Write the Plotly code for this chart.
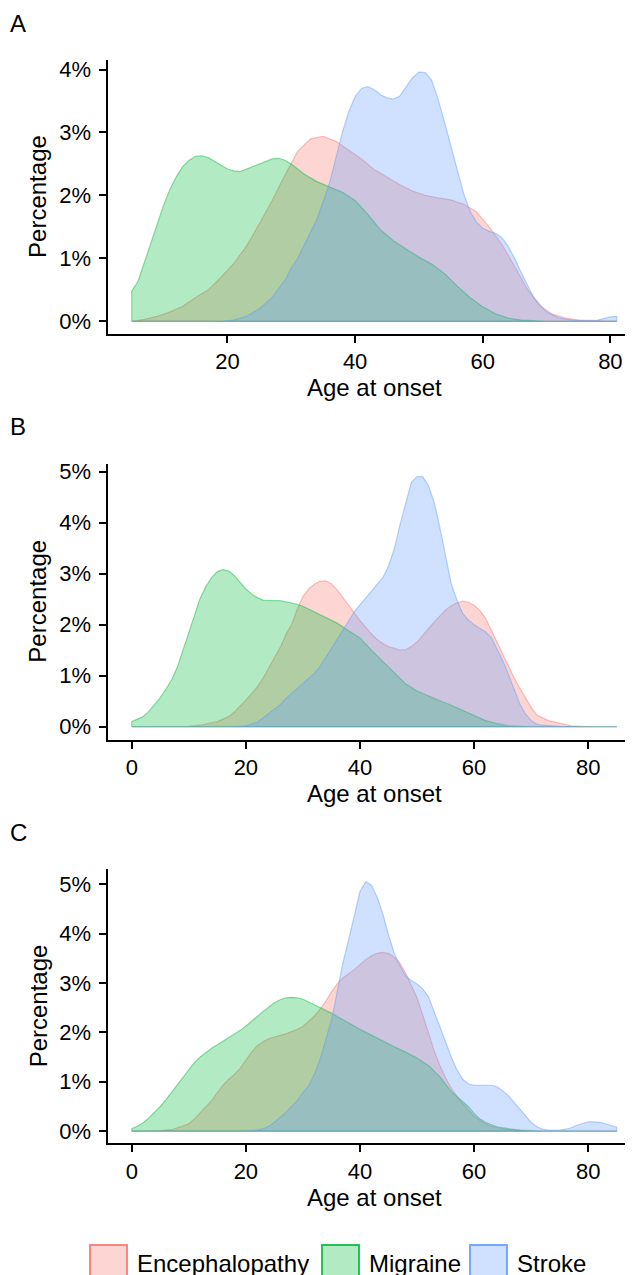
import plotly.graph_objects as go

# ---------------- data (percent density by age at onset) ----------------
# Panel A
A_enc_age = [5, 7, 9, 11, 13, 15, 17, 19, 21, 23, 25, 27, 29, 31, 33, 35, 37, 39, 41, 43, 45, 47, 49, 51, 53, 55, 57, 59, 61, 63, 65, 67, 69, 71, 73, 75, 77, 79, 81]
A_enc_val = [0.0, 0.03, 0.08, 0.15, 0.24, 0.38, 0.5, 0.7, 0.92, 1.2, 1.55, 1.92, 2.32, 2.7, 2.9, 2.94, 2.86, 2.72, 2.58, 2.41, 2.29, 2.17, 2.07, 2.0, 1.96, 1.93, 1.86, 1.74, 1.5, 1.22, 0.87, 0.51, 0.24, 0.11, 0.05, 0.02, 0.01, 0.0, 0.0]

A_mig_age = [5, 6, 7, 8, 9, 10, 11, 12, 13, 14, 15, 16, 17, 18, 19, 20, 21, 22, 23, 24, 25, 26, 27, 28, 29, 30, 32, 34, 36, 38, 40, 42, 44, 46, 48, 50, 52, 54, 56, 58, 60, 62, 64, 66, 68, 70, 75, 81]
A_mig_val = [0.48, 0.64, 0.95, 1.25, 1.54, 1.85, 2.1, 2.3, 2.46, 2.56, 2.62, 2.63, 2.6, 2.54, 2.47, 2.42, 2.39, 2.38, 2.42, 2.46, 2.51, 2.55, 2.58, 2.59, 2.56, 2.5, 2.34, 2.22, 2.14, 2.05, 1.92, 1.7, 1.45, 1.28, 1.15, 1.02, 0.91, 0.76, 0.56, 0.38, 0.23, 0.12, 0.05, 0.02, 0.01, 0.0, 0.0, 0.0]

A_str_age = [5, 15, 19, 21, 23, 25, 27, 29, 30, 31, 32, 33, 34, 35, 36, 37, 38, 39, 40, 41, 42, 43, 44, 45, 46, 47, 48, 49, 50, 51, 52, 53, 54, 55, 56, 57, 58, 59, 60, 61, 62, 63, 64, 65, 66, 67, 68, 69, 70, 72, 74, 76, 78, 80, 81]
A_str_val = [0.0, 0.0, 0.0, 0.02, 0.08, 0.2, 0.38, 0.65, 0.85, 1.0, 1.2, 1.4, 1.62, 1.9, 2.2, 2.6, 3.0, 3.33, 3.57, 3.7, 3.73, 3.68, 3.6, 3.55, 3.53, 3.58, 3.72, 3.87, 3.96, 3.95, 3.83, 3.53, 3.17, 2.78, 2.4, 2.03, 1.75, 1.58, 1.48, 1.43, 1.4, 1.33, 1.19, 1.0, 0.78, 0.58, 0.38, 0.26, 0.15, 0.05, 0.02, 0.01, 0.02, 0.07, 0.08]

# Panel B
B_enc_age = [0, 5, 8, 10, 12, 14, 15, 16, 17, 18, 19, 20, 21, 22, 23, 24, 25, 26, 27, 28, 29, 30, 31, 32, 33, 34, 35, 36, 37, 38, 39, 40, 41, 42, 43, 44, 45, 46, 47, 48, 49, 50, 51, 52, 53, 54, 55, 56, 57, 58, 59, 60, 61, 62, 63, 64, 65, 66, 67, 68, 69, 70, 71, 72, 73, 75, 77, 79, 81, 85]
B_enc_val = [0.0, 0.0, 0.0, 0.01, 0.03, 0.07, 0.1, 0.15, 0.2, 0.29, 0.4, 0.52, 0.65, 0.78, 0.95, 1.15, 1.35, 1.55, 1.8, 2.0, 2.3, 2.55, 2.7, 2.79, 2.85, 2.86, 2.8, 2.68, 2.53, 2.37, 2.23, 2.08, 1.94, 1.82, 1.71, 1.63, 1.57, 1.53, 1.5, 1.51, 1.57, 1.66, 1.78, 1.92, 2.05, 2.18, 2.29, 2.37, 2.43, 2.46, 2.44, 2.38, 2.28, 2.13, 1.9, 1.65, 1.41, 1.18, 0.96, 0.76, 0.57, 0.38, 0.23, 0.17, 0.12, 0.07, 0.02, 0.01, 0.0, 0.0]

B_mig_age = [0, 1, 2, 3, 4, 5, 6, 7, 8, 9, 10, 11, 12, 13, 14, 15, 16, 17, 18, 19, 20, 21, 22, 23, 24, 25, 26, 27, 28, 29, 30, 32, 34, 36, 38, 40, 42, 44, 46, 48, 50, 52, 54, 56, 58, 60, 62, 64, 66, 68, 70, 85]
B_mig_val = [0.1, 0.15, 0.2, 0.3, 0.43, 0.57, 0.74, 0.92, 1.17, 1.5, 1.85, 2.2, 2.52, 2.75, 2.92, 3.04, 3.08, 3.05, 2.96, 2.83, 2.7, 2.6, 2.53, 2.48, 2.47, 2.47, 2.47, 2.45, 2.43, 2.4, 2.36, 2.25, 2.14, 2.03, 1.88, 1.74, 1.5, 1.28, 1.05, 0.84, 0.7, 0.6, 0.51, 0.42, 0.32, 0.22, 0.12, 0.06, 0.02, 0.01, 0.0, 0.0]

B_str_age = [0, 15, 18, 20, 21, 22, 23, 24, 25, 26, 27, 28, 29, 30, 31, 32, 33, 34, 35, 36, 37, 38, 39, 40, 41, 42, 43, 44, 45, 46, 47, 48, 49, 50, 51, 52, 53, 54, 55, 56, 57, 58, 59, 60, 61, 62, 63, 64, 65, 66, 67, 68, 69, 70, 71, 72, 75, 78, 85]
B_str_val = [0.0, 0.0, 0.0, 0.02, 0.05, 0.09, 0.17, 0.26, 0.34, 0.43, 0.55, 0.65, 0.75, 0.85, 0.95, 1.05, 1.18, 1.36, 1.53, 1.71, 1.9, 2.09, 2.25, 2.39, 2.52, 2.64, 2.78, 2.92, 3.15, 3.48, 3.95, 4.4, 4.79, 4.9, 4.9, 4.72, 4.4, 3.9, 3.35, 2.8, 2.48, 2.22, 2.09, 2.0, 1.93, 1.86, 1.75, 1.52, 1.3, 1.03, 0.73, 0.45, 0.25, 0.12, 0.05, 0.03, 0.01, 0.0, 0.0]

# Panel C
C_enc_age = [0, 3, 5, 7, 9, 10, 11, 12, 13, 14, 15, 16, 17, 18, 19, 20, 21, 22, 23, 24, 25, 26, 27, 28, 29, 30, 31, 32, 33, 34, 35, 36, 37, 38, 39, 40, 41, 42, 43, 44, 45, 46, 47, 48, 49, 50, 51, 52, 53, 54, 55, 56, 57, 58, 59, 60, 61, 62, 63, 65, 67, 70, 85]
C_enc_val = [0.0, 0.0, 0.01, 0.03, 0.1, 0.15, 0.25, 0.37, 0.5, 0.62, 0.78, 0.93, 1.05, 1.15, 1.27, 1.43, 1.6, 1.73, 1.81, 1.87, 1.91, 1.94, 1.97, 2.01, 2.06, 2.12, 2.22, 2.33, 2.47, 2.63, 2.82, 2.98, 3.1, 3.18, 3.27, 3.37, 3.47, 3.55, 3.6, 3.62, 3.6, 3.52, 3.4, 3.2, 2.95, 2.7, 2.35, 1.98, 1.63, 1.33, 1.08, 0.87, 0.7, 0.56, 0.43, 0.3, 0.22, 0.15, 0.1, 0.05, 0.02, 0.0, 0.0]

C_mig_age = [0, 1, 2, 3, 4, 5, 6, 7, 8, 9, 10, 11, 12, 13, 14, 15, 16, 17, 18, 19, 20, 21, 22, 23, 24, 25, 26, 27, 28, 29, 30, 31, 32, 33, 34, 35, 36, 37, 38, 39, 40, 42, 44, 46, 48, 50, 52, 54, 56, 58, 59, 60, 61, 62, 63, 64, 66, 68, 70, 72, 85]
C_mig_val = [0.05, 0.1, 0.17, 0.27, 0.38, 0.5, 0.64, 0.79, 0.94, 1.1, 1.26, 1.39, 1.5, 1.6, 1.68, 1.75, 1.82, 1.89, 1.96, 2.04, 2.13, 2.22, 2.32, 2.42, 2.52, 2.6, 2.66, 2.7, 2.71, 2.7, 2.67, 2.62, 2.56, 2.5, 2.45, 2.39, 2.32, 2.26, 2.2, 2.13, 2.06, 1.94, 1.82, 1.71, 1.6, 1.48, 1.33, 1.1, 0.8, 0.6, 0.5, 0.36, 0.25, 0.18, 0.13, 0.09, 0.05, 0.02, 0.01, 0.0, 0.0]

C_str_age = [0, 15, 20, 22, 23, 24, 25, 26, 27, 28, 29, 30, 31, 32, 33, 34, 35, 36, 37, 38, 39, 40, 41, 42, 43, 44, 45, 46, 47, 48, 49, 50, 51, 52, 53, 54, 55, 56, 57, 58, 59, 60, 61, 62, 63, 64, 65, 66, 67, 68, 69, 70, 71, 72, 73, 74, 75, 76, 77, 78, 79, 80, 81, 82, 83, 84, 85]
C_str_val = [0.0, 0.0, 0.0, 0.02, 0.05, 0.1, 0.18, 0.28, 0.38, 0.5, 0.62, 0.78, 0.92, 1.15, 1.45, 1.85, 2.25, 2.82, 3.4, 3.87, 4.38, 4.85, 5.05, 4.98, 4.74, 4.4, 3.97, 3.6, 3.35, 3.14, 3.05, 2.98, 2.88, 2.72, 2.42, 2.1, 1.78, 1.5, 1.24, 1.05, 0.96, 0.93, 0.93, 0.93, 0.93, 0.9, 0.82, 0.72, 0.58, 0.45, 0.3, 0.18, 0.09, 0.04, 0.02, 0.02, 0.02, 0.04, 0.07, 0.12, 0.16, 0.19, 0.19, 0.18, 0.15, 0.11, 0.08]

groups = ["Encephalopathy", "Migraine", "Stroke"]
panels = ["A", "B", "C"]
panel_data = {
    "A": [(A_enc_age, A_enc_val), (A_mig_age, A_mig_val), (A_str_age, A_str_val)],
    "B": [(B_enc_age, B_enc_val), (B_mig_age, B_mig_val), (B_str_age, B_str_val)],
    "C": [(C_enc_age, C_enc_val), (C_mig_age, C_mig_val), (C_str_age, C_str_val)],
}
x_ticks = {"A": [20, 40, 60, 80], "B": [0, 20, 40, 60, 80], "C": [0, 20, 40, 60, 80]}
y_ticks = {"A": [0, 1, 2, 3, 4], "B": [0, 1, 2, 3, 4, 5], "C": [0, 1, 2, 3, 4, 5]}
x_title = "Age at onset"
y_title = "Percentage"

# ---------------- styling ----------------
W, H = 633, 1275
FONT = "Liberation Sans, Arial, Helvetica, sans-serif"
rgb = {"Encephalopathy": (248, 118, 109), "Migraine": (0, 186, 56), "Stroke": (97, 156, 255)}
FILL_A = 0.3

# panel geometry in pixels (top, bottom) and axis ranges
plot_left = 99.5
geom = {
    "A": dict(top=48, bottom=323, xr=[1.2, 84.8], yr=[-0.201, 4.154]),
    "B": dict(top=453, bottom=730, xr=[-4.25, 89.25], yr=[-0.254, 5.156]),
    "C": dict(top=860, bottom=1135, xr=[-4.25, 89.25], yr=[-0.248, 5.30]),
}
label_y = {"A": 12, "B": 416, "C": 823}


def px(x):
    return x / W


def py(y):
    return 1 - y / H


fig = go.Figure()
layout = dict(
    width=W, height=H, margin=dict(l=0, r=0, t=0, b=0),
    paper_bgcolor="white", plot_bgcolor="white", showlegend=False,
    font=dict(family=FONT, color="black"),
)
annotations = []
shapes = []

for i, p in enumerate(panels):
    g = geom[p]
    xa = "xaxis" if i == 0 else f"xaxis{i+1}"
    ya = "yaxis" if i == 0 else f"yaxis{i+1}"
    xref = "x" if i == 0 else f"x{i+1}"
    yref = "y" if i == 0 else f"y{i+1}"
    for grp, (ages, vals) in zip(groups, panel_data[p]):
        r, gg, b = rgb[grp]
        xs = [ages[0]] + list(ages) + [ages[-1], ages[0]]
        ys = [0] + list(vals) + [0, 0]
        fig.add_trace(go.Scatter(
            x=xs, y=ys, mode="lines", fill="toself",
            fillcolor=f"rgba({r},{gg},{b},{FILL_A})",
            line=dict(color=f"rgba({r},{gg},{b},0.45)", width=1.2),
            name=grp, xaxis=xref, yaxis=yref, hoverinfo="skip",
        ))
    layout[xa] = dict(
        domain=[px(plot_left), 1], range=g["xr"], anchor=yref,
        showgrid=False, zeroline=False, showline=True, linecolor="black", linewidth=2,
        ticks="outside", ticklen=7, tickwidth=1.6, tickcolor="black",
        tickvals=x_ticks[p], ticktext=[str(v) for v in x_ticks[p]],
        tickfont=dict(size=22, family=FONT, color="black"),
    )
    layout[ya] = dict(
        domain=[py(g["bottom"]), py(g["top"])], range=g["yr"], anchor=xref,
        showgrid=False, zeroline=False, showline=True, linecolor="black", linewidth=2,
        ticks="outside", ticklen=7, tickwidth=1.6, tickcolor="black",
        tickvals=y_ticks[p], ticktext=[f"{v}%" for v in y_ticks[p]],
        tickfont=dict(size=22, family=FONT, color="black"),
        ticklabelstandoff=3,
    )
    # panel letter
    annotations.append(dict(text=p, x=px(0), y=py(label_y[p]), xref="paper", yref="paper",
                            xanchor="left", yanchor="middle", showarrow=False,
                            font=dict(size=24, family=FONT, color="black")))
    # axis titles
    annotations.append(dict(text=x_title, x=px((plot_left + W) / 2), y=py(g["bottom"] + 54),
                            xref="paper", yref="paper", xanchor="center", yanchor="middle",
                            showarrow=False, font=dict(size=24, family=FONT, color="black")))
    annotations.append(dict(text=y_title, x=px(30), y=py((g["top"] + g["bottom"]) / 2),
                            xref="paper", yref="paper", xanchor="center", yanchor="middle",
                            textangle=-90, showarrow=False,
                            font=dict(size=24, family=FONT, color="black")))

# legend built from groups
leg_box_left = [82, 314, 462]
box_top, box_bot, box_w = 1237, 1274, 37
for grp, x0 in zip(groups, leg_box_left):
    r, gg, b = rgb[grp]
    shapes.append(dict(type="rect", xref="paper", yref="paper",
                       x0=px(x0), x1=px(x0 + box_w), y0=py(box_bot), y1=py(box_top),
                       fillcolor=f"rgba({r},{gg},{b},{FILL_A})",
                       line=dict(color=f"rgba({r},{gg},{b},0.85)", width=2)))
    annotations.append(dict(text=grp, x=px(x0 + box_w + 8), y=py((box_top + box_bot) / 2),
                            xref="paper", yref="paper", xanchor="left", yanchor="middle",
                            showarrow=False, font=dict(size=24, family=FONT, color="black")))

layout["annotations"] = annotations
layout["shapes"] = shapes
fig.update_layout(**layout)
fig.write_html("out.html")
